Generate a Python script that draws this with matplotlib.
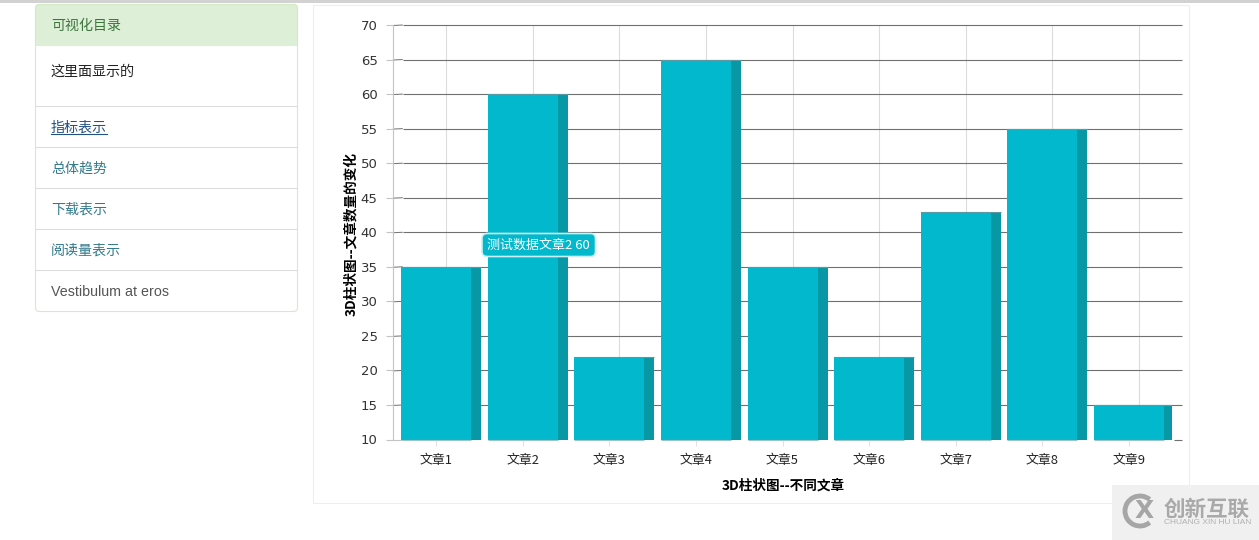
#!/usr/bin/env python3
"""Screenshot of a sidebar menu next to a pseudo-3D column chart."""
import matplotlib
matplotlib.use("Agg")
import matplotlib.pyplot as plt
from matplotlib.patches import Rectangle, FancyBboxPatch, Arc

plt.rcParams["font.family"] = ["Noto Sans CJK SC", "DejaVu Sans"]

W, H = 1259, 540

CATEGORIES = ["文章1", "文章2", "文章3", "文章4", "文章5", "文章6", "文章7", "文章8", "文章9"]
VALUES = [35, 60, 22, 65, 35, 22, 43, 55, 15]
Y_TICKS = [10, 15, 20, 25, 30, 35, 40, 45, 50, 55, 60, 65, 70]

MENU_LINKS = ["指标表示", "总体趋势", "下载表示", "阅读量表示"]
MENU_LINK_Y = [127, 168, 209, 250]
MENU_RULES = [106.2, 147.2, 188.2, 229.2, 270.2]

FRONT = "#02b8cc"
SIDE = "#0797a5"
GRID = "#707070"
LIGHT = "#dcdcdc"
AXIS = "#c4c4c4"

fig = plt.figure(figsize=(W / 100, H / 100), dpi=100, facecolor="white")

# ---- page layer, in screenshot pixels ----
page = fig.add_axes([0, 0, 1, 1], zorder=0)
page.set_xlim(0, W)
page.set_ylim(H, 0)
page.axis("off")

page.add_patch(Rectangle((0, 0), W, 3, fc="#d2d2d2", ec="none"))
page.add_patch(Rectangle((313.5, 4.5), 876, 498.5, fc="white", ec="#eeeeee", lw=0.8))

# sidebar panel
page.add_patch(FancyBboxPatch((35.5, 4.5), 262, 307, boxstyle="round,pad=0,rounding_size=4",
                              fc="white", ec="#dde3d6", lw=0.8))
page.add_patch(FancyBboxPatch((35.5, 4.5), 262, 41, boxstyle="round,pad=0,rounding_size=4",
                              fc="#deefd8", ec="#d6e9c6", lw=0.8))
page.add_patch(Rectangle((36, 38), 261, 7.5, fc="#deefd8", ec="none"))
for y in MENU_RULES:
    page.plot([36, 297], [y, y], color="#dddddd", lw=0.8)

page.text(51, 26, "可视化目录", fontsize=10.1, color="#3c763d", va="center")
page.text(51, 72, "这里面显示的", fontsize=10.1, color="#222222", va="center")
for i, (label, y) in enumerate(zip(MENU_LINKS, MENU_LINK_Y)):
    col = "#23527c" if i == 0 else "#337a8c"
    page.text(51, y + 1, label, fontsize=10.1, color=col, va="center")
page.plot([51, 107], [134.2, 134.2], color="#23527c", lw=0.8)
page.text(51, 291.5, "Vestibulum at eros", fontsize=10.3, color="#555555", va="center",
          family="Liberation Sans")

# watermark
page.add_patch(Rectangle((1112, 485), 147, 55, fc="#f0f0f0", ec="none"))
page.add_patch(Arc((1140, 511), 30, 30, theta1=50, theta2=310, ec="#a6a6a6", lw=3.5))
page.text(1144, 511, "X", fontsize=18, fontweight="bold", color="#a6a6a6",
          ha="center", va="center", family="DejaVu Sans")
page.text(1164, 509, "创新互联", fontsize=15.5, fontweight="bold", color="#a9a9a9", va="center")
page.text(1164, 523, "CHUANG XIN HU LIAN", fontsize=6, color="#b0b0b0", va="center",
          family="Liberation Sans")

# ---- chart layer ----
LEFT, RIGHT, TOP, BOTTOM = 392.8, 1172.2, 25, 439.5
ax = fig.add_axes([LEFT / W, 1 - BOTTOM / H, (RIGHT - LEFT) / W, (BOTTOM - TOP) / H], zorder=1)
ax.patch.set_alpha(0)
x = list(range(len(CATEGORIES)))
band = (RIGHT - LEFT) / len(CATEGORIES)
depth = 10 / band
bar_w = 70 / band
x0, x1 = -0.5, len(x) - 0.5

ax.set_xlim(x0, x1)
ax.set_ylim(Y_TICKS[0], Y_TICKS[-1])
for s in ["top", "right", "bottom"]:
    ax.spines[s].set_visible(False)
ax.spines["left"].set_color(AXIS)
ax.spines["left"].set_linewidth(0.8)

# back wall: grid shifted by the 3D depth
for i in x:
    ax.plot([i + depth, i + depth], [10, 70], color=LIGHT, lw=0.8, zorder=1, clip_on=False)
for v in Y_TICKS:
    if v == Y_TICKS[0]:
        # the floor line only shows past the last bar
        ax.plot([x[-1] + bar_w / 2 + depth, x1 + depth], [v, v], color=GRID, lw=0.8, zorder=1.5,
                clip_on=False, solid_capstyle="butt")
        ax.plot([x0, x[0] - bar_w / 2], [v, v], color=AXIS, lw=0.8, zorder=1.5,
                clip_on=False, solid_capstyle="butt")
        continue
    ax.plot([x0, x0 + depth], [v - 0.07, v], color=GRID, lw=0.7, zorder=1, clip_on=False,
            solid_capstyle="butt")
    ax.plot([x0 + depth, x1 + depth], [v, v], color=GRID, lw=0.8, zorder=1.5, clip_on=False,
            solid_capstyle="butt")

ax.bar(x, [v - 10 for v in VALUES], width=bar_w, bottom=10, color=FRONT, zorder=3)
ax.bar([i + bar_w / 2 + depth / 2 for i in x], [v - 10 for v in VALUES], width=depth, bottom=10,
       color=SIDE, zorder=3)
ax.hlines(VALUES, [i - bar_w / 2 for i in x], [i + bar_w / 2 + depth for i in x],
          color="#5c9aa3", lw=0.8, zorder=4)
ax.hlines([10] * len(x), [i - bar_w / 2 for i in x], [i + bar_w / 2 for i in x],
          color="#9cc4ca", lw=0.8, zorder=4, clip_on=False)

ax.set_xticks(x)
ax.set_xticklabels(CATEGORIES, fontsize=9.3, color="#222222", family=["Noto Sans CJK SC", "DejaVu Sans"])
ax.set_yticks(Y_TICKS)
ax.tick_params(axis="y", labelsize=9.5, labelcolor="#333333", color=AXIS, length=5, width=0.8, pad=6)
ax.tick_params(axis="x", color="#e2e2e2", length=4, width=0.8, pad=6.5)
for lab in ax.get_yticklabels():
    lab.set_family("DejaVu Sans")

# axis titles, placed in pixels so they match the screenshot
page.text(783, 485.5, "3D柱状图--不同文章", fontsize=9.8, fontweight="bold", color="black",
          ha="center", va="center")
page.text(351.5, 233.5, "3D柱状图--文章数量的变化", fontsize=9.8, fontweight="bold", color="black",
          ha="center", va="center", rotation=90)

# tooltip
over = fig.add_axes([0, 0, 1, 1], zorder=2)
over.set_xlim(0, W)
over.set_ylim(H, 0)
over.axis("off")
over.add_patch(FancyBboxPatch((482, 233.5), 113.5, 23, boxstyle="round,pad=0,rounding_size=5",
                              fc=FRONT, ec="#c9f1f5", lw=1.2))
over.text(487.5, 245, f"测试数据{CATEGORIES[1]} {VALUES[1]}", fontsize=9.4, color="white", va="center")

fig.savefig("out.png", dpi=100, facecolor="white")
